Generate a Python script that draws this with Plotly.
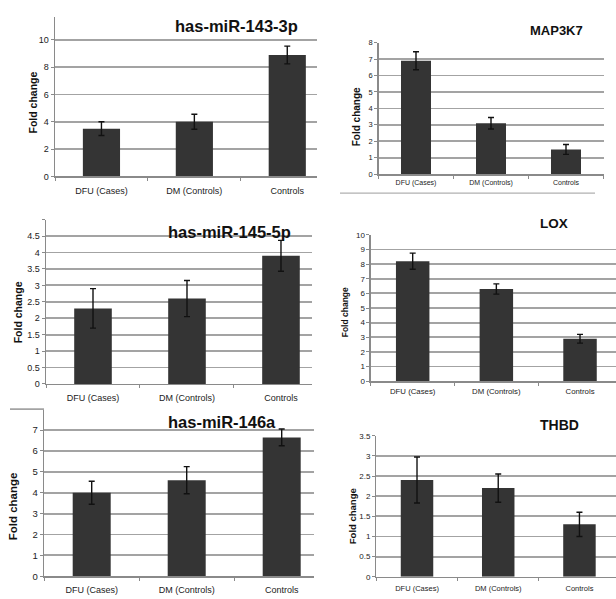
import plotly.graph_objects as go

categories = ["DFU (Cases)", "DM (Controls)", "Controls"]
titles = ["has-miR-143-3p", "MAP3K7", "has-miR-145-5p", "LOX", "has-miR-146a", "THBD"]
y_title = "Fold change"

mir143_vals = [3.5, 4.0, 8.9]
mir143_err = [0.5, 0.55, 0.65]
map3k7_vals = [6.9, 3.1, 1.5]
map3k7_err = [0.55, 0.35, 0.3]
mir145_vals = [2.3, 2.6, 3.9]
mir145_err = [0.6, 0.55, 0.47]
lox_vals = [8.2, 6.3, 2.9]
lox_err = [0.55, 0.35, 0.3]
mir146_vals = [4.0, 4.6, 6.65]
mir146_err = [0.55, 0.65, 0.4]
thbd_vals = [2.4, 2.2, 1.3]
thbd_err = [0.57, 0.35, 0.3]

ticks_143 = [0, 2, 4, 6, 8, 10]
ticks_map = [0, 1, 2, 3, 4, 5, 6, 7, 8]
ticks_145 = [0, 0.5, 1, 1.5, 2, 2.5, 3, 3.5, 4, 4.5, 5]
ticks_lox = [0, 1, 2, 3, 4, 5, 6, 7, 8, 9, 10]
ticks_146 = [0, 1, 2, 3, 4, 5, 6, 7, 8]
ticks_thbd = [0, 0.5, 1, 1.5, 2, 2.5, 3, 3.5]

W, H = 616, 599
FONT = "Liberation Sans, Arial, sans-serif"
BAR = "#343434"
GRID = "#a3a3a3"

panels = [
    dict(vals=mir143_vals, err=mir143_err, ticks=ticks_143, hide_top=False,
         xl=55, xr=317, yb=175, yt=13, yr=[0, 11.7], xmax=2.32, cso=5,
         tfs=9, cfs=9, yfs=10.5, ypos=(33, 100), tpos=(173, 22), tfsz=16.5),
    dict(vals=map3k7_vals, err=map3k7_err, ticks=ticks_map, hide_top=False,
         xl=378.5, xr=603.5, yb=172.7, yt=39.3, yr=[0, 8], xmax=2.5, cso=1,
         tfs=7.5, cfs=7, yfs=10, ypos=(356, 115), tpos=(528, 27), tfsz=13),
    dict(vals=mir145_vals, err=mir145_err, ticks=ticks_145, hide_top=True,
         xl=46, xr=312, yb=385.7, yt=219, yr=[0, 5], xmax=2.33, cso=5,
         tfs=9, cfs=9, yfs=10.5, ypos=(18, 313), tpos=(166, 231), tfsz=16.5),
    dict(vals=lox_vals, err=lox_err, ticks=ticks_lox, hide_top=False,
         xl=370.85, xr=616, yb=383, yt=234.3, yr=[0, 10], xmax=2.43, cso=2,
         tfs=8, cfs=7.8, yfs=8.5, ypos=(345, 313), tpos=(538, 223), tfsz=13.5),
    dict(vals=mir146_vals, err=mir146_err, ticks=ticks_146, hide_top=True,
         xl=44.2, xr=314, yb=581, yt=411.4, yr=[0, 8], xmax=2.34, cso=5,
         tfs=9.5, cfs=9, yfs=11.5, ypos=(13, 510), tpos=(166, 424), tfsz=16.5),
    dict(vals=thbd_vals, err=thbd_err, ticks=ticks_thbd, hide_top=False,
         xl=376.4, xr=616, yb=581.5, yt=438.3, yr=[0, 3.5], xmax=2.45, cso=4,
         tfs=8, cfs=7.5, yfs=9.5, ypos=(352, 520), tpos=(538, 427), tfsz=14),
]

fig = go.Figure()
annotations = []
layout = {}
for i, (p, title) in enumerate(zip(panels, titles), start=1):
    xa = "x" if i == 1 else f"x{i}"
    ya = "y" if i == 1 else f"y{i}"
    fig.add_trace(go.Bar(
        x=categories, y=p["vals"], xaxis=xa, yaxis=ya,
        marker=dict(color=BAR, line=dict(width=0)), width=0.4,
        error_y=dict(type="data", array=p["err"], visible=True,
                     color="#111111", thickness=1.4, width=3),
        showlegend=False, hoverinfo="skip",
    ))
    ticktext = [("%g" % v) for v in p["ticks"]]
    if p["hide_top"]:
        ticktext[-1] = ""
    xkey = "xaxis" if i == 1 else f"xaxis{i}"
    ykey = "yaxis" if i == 1 else f"yaxis{i}"
    layout[xkey] = dict(
        domain=[p["xl"] / W, p["xr"] / W], anchor=ya, type="category",
        range=[-0.5, p["xmax"]], showgrid=False, showline=True,
        linecolor="#8a8a8a", linewidth=1.4, ticks="outside", tickson="boundaries",
        ticklen=3, tickcolor="#8a8a8a", ticklabelstandoff=p["cso"],
        tickfont=dict(family=FONT, size=p["cfs"], color="#222"),
        fixedrange=True,
    )
    layout[ykey] = dict(
        domain=[1 - p["yb"] / H, 1 - p["yt"] / H], anchor=xa, range=p["yr"],
        tickmode="array", tickvals=p["ticks"], ticktext=ticktext,
        showgrid=True, gridcolor=GRID, gridwidth=1.8, showline=True,
        linecolor="#8a8a8a", linewidth=1.4, ticks="outside", ticklen=3,
        tickcolor="#8a8a8a", tickfont=dict(family=FONT, size=p["tfs"], color="#222"),
        zeroline=False, fixedrange=True,
    )
    annotations.append(dict(
        text="<b>%s</b>" % y_title, textangle=-90, xref="paper", yref="paper",
        x=p["ypos"][0] / W, y=1 - p["ypos"][1] / H, xanchor="center", yanchor="middle",
        showarrow=False, font=dict(family=FONT, size=p["yfs"], color="#111"),
    ))
    annotations.append(dict(
        text="<b>%s</b>" % title, xref="paper", yref="paper",
        x=p["tpos"][0] / W, y=1 - p["tpos"][1] / H, xanchor="left", yanchor="middle",
        showarrow=False, font=dict(family=FONT, size=p["tfsz"], color="#111"),
    ))

shapes = [
    dict(type="line", xref="paper", yref="paper", x0=340 / W, x1=595 / W,
         y0=1 - 192 / H, y1=1 - 192 / H, line=dict(color="#b0b0b0", width=1.3)),
    dict(type="line", xref="paper", yref="paper", x0=10 / W, x1=44 / W,
         y0=1 - 411.4 / H, y1=1 - 411.4 / H, line=dict(color=GRID, width=1.8)),
]

fig.update_layout(
    width=W, height=H, margin=dict(l=0, r=0, t=0, b=0),
    paper_bgcolor="white", plot_bgcolor="white", bargap=0.6,
    annotations=annotations, shapes=shapes, **layout,
)
fig.write_html(
    "out.html",
    config={"displayModeBar": False, "staticPlot": True},
    post_script="document.body.style.margin='0';document.body.style.overflow='hidden';",
)
